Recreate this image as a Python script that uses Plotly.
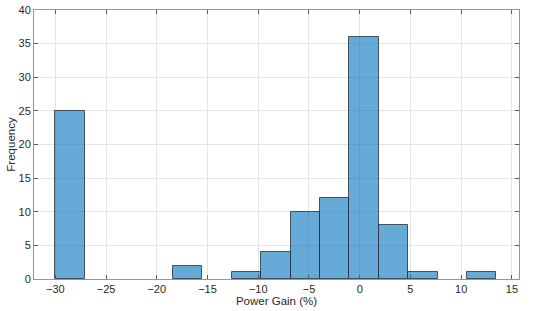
import plotly.graph_objects as go

# histogram counts (15 bins)
counts = [25, 0, 0, 0, 2, 0, 1, 4, 10, 12, 36, 8, 1, 0, 1]
bin_start = -30.0
bin_width = 2.898

x_ticks = [-30, -25, -20, -15, -10, -5, 0, 5, 10, 15]
y_ticks = [0, 5, 10, 15, 20, 25, 30, 35, 40]

centers = [bin_start + (i + 0.5) * bin_width for i in range(len(counts))]
# empty bins get no outline
edge_w = [1 if c > 0 else 0 for c in counts]

fig = go.Figure(go.Bar(
    x=centers, y=counts, width=[bin_width] * len(counts),
    marker=dict(color="rgba(0,114,189,0.6)",
                line=dict(color="rgba(40,48,60,0.8)", width=edge_w)),
))

axis_common = dict(
    showline=True, linecolor="rgb(150,150,150)", linewidth=1, mirror="ticks",
    ticks="inside", ticklen=4, tickcolor="rgb(90,90,90)",
    showgrid=True, gridcolor="rgb(228,228,228)", gridwidth=1,
    zeroline=False, automargin=False,
    tickfont=dict(size=11, color="rgb(40,40,40)"),
)

fig.update_xaxes(range=[-32.1, 15.7], tickvals=x_ticks,
                 ticktext=[str(t).replace("-", "\u2212") for t in x_ticks],
                 title=dict(text="Power Gain (%)", font=dict(size=11.5, color="rgb(40,40,40)"),
                            standoff=2),
                 **axis_common)
fig.update_yaxes(range=[0, 40], tickvals=y_ticks,
                 title=dict(text="Frequency", font=dict(size=11.5, color="rgb(40,40,40)"),
                            standoff=0),
                 **axis_common)

fig.update_layout(
    width=550, height=311,
    margin=dict(l=34, r=31, t=10, b=32),
    plot_bgcolor="white", paper_bgcolor="white",
    font=dict(family="Liberation Sans, Arial, sans-serif"),
    showlegend=False, bargap=0,
)

# drop the default page margin so the figure sits at the window corner
fig.write_html("out.html", config={"displayModeBar": False},
               post_script="document.body.style.margin='0';")
